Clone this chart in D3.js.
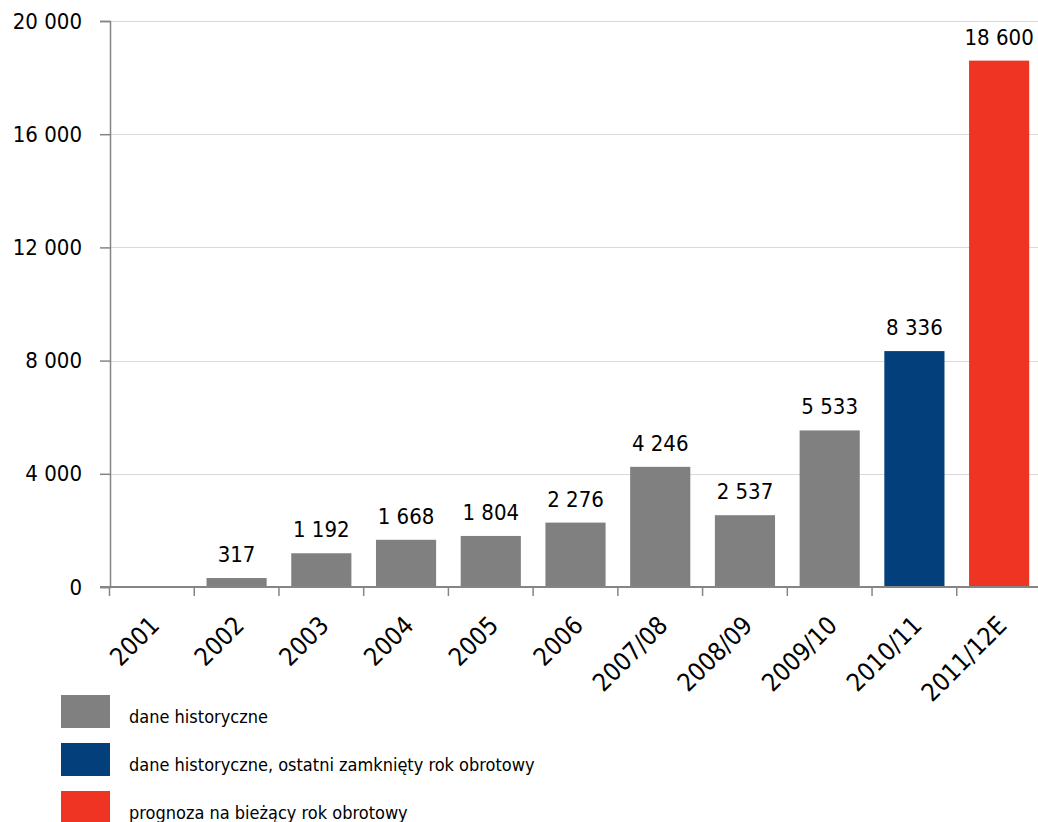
<html>
<head>
<meta charset="utf-8">
<script src="https://d3js.org/d3.v7.min.js"></script>
<style>
body { margin: 0; background: #fff; }
svg { display: block; }
text { font-family: "DejaVu Sans Condensed", "DejaVu Sans", sans-serif; fill: #000; }
.grid line { stroke: #d9d9d9; stroke-width: 1; }
.axis path, .axis line { stroke: #858585; }
</style>
</head>
<body>
<svg width="1038" height="822"></svg>
<script>

// data
var categories = ["2001", "2002", "2003", "2004", "2005", "2006", "2007/08", "2008/09", "2009/10", "2010/11", "2011/12E"];
var values = [0, 317, 1192, 1668, 1804, 2276, 4246, 2537, 5533, 8336, 18600];
var kinds = ["hist", "hist", "hist", "hist", "hist", "hist", "hist", "hist", "hist", "last", "forecast"];
var yTicks = [0, 4000, 8000, 12000, 16000, 20000];
var legendKeys = ["hist", "last", "forecast"];
var legendLabels = ["dane historyczne", "dane historyczne, ostatni zamknięty rok obrotowy", "prognoza na bieżący rok obrotowy"];

var colors = { hist: "#808080", last: "#023f7b", forecast: "#ef3424" };

var svg = d3.select("svg");
var fmt = function(v) { return d3.format(",")(v).replace(/,/g, " "); };

var x = d3.scaleBand()
    .domain(categories)
    .range([109.5, 1041.5])
    .paddingInner(0.29)
    .paddingOuter(0.145);

var y = d3.scaleLinear()
    .domain([0, 20000])
    .range([587, 21]);

// gridlines
svg.append("g")
    .attr("class", "grid")
    .selectAll("line")
    .data(yTicks.slice(1))
    .enter().append("line")
    .attr("x1", 110).attr("x2", 1038)
    .attr("y1", d => Math.round(y(d)) + 0.5)
    .attr("y2", d => Math.round(y(d)) + 0.5);

// bars
var data = categories.map((c, i) => ({ cat: c, value: values[i], kind: kinds[i] }));

svg.append("g").selectAll("rect")
    .data(data.filter(d => d.value > 0))
    .enter().append("rect")
    .attr("x", d => x(d.cat))
    .attr("width", x.bandwidth())
    .attr("y", d => y(d.value))
    .attr("height", d => y(0) - y(d.value))
    .attr("fill", d => colors[d.kind]);

// value labels
svg.append("g").selectAll("text")
    .data(data.filter(d => d.value > 0))
    .enter().append("text")
    .attr("x", d => x(d.cat) + x.bandwidth() / 2)
    .attr("y", d => y(d.value) - 16)
    .attr("text-anchor", "middle")
    .style("font-size", "22px")
    .text(d => fmt(d.value));

// y axis
var yAxis = svg.append("g")
    .attr("class", "axis")
    .attr("transform", "translate(110,0)")
    .call(d3.axisLeft(y).tickValues(yTicks).tickSize(10).tickPadding(18).tickFormat(fmt));
yAxis.select(".domain").attr("stroke-width", 1.5);
yAxis.selectAll(".tick line").attr("stroke-width", 1.5);
yAxis.selectAll("text")
    .style("font-size", "22px")
    .attr("fill", "#000");

// x axis
var step = x.step();
var xAxis = svg.append("g")
    .attr("class", "axis")
    .attr("transform", "translate(0,587)");
xAxis.append("line")
    .attr("x1", 100).attr("x2", 1038)
    .attr("stroke-width", 2);
xAxis.selectAll(".xt")
    .data(categories)
    .enter().append("line")
    .attr("class", "xt")
    .attr("x1", d => x(d) - x.paddingInner() * step / 2)
    .attr("x2", d => x(d) - x.paddingInner() * step / 2)
    .attr("y1", 0).attr("y2", 9)
    .attr("stroke-width", 1.5);
xAxis.selectAll("text")
    .data(categories)
    .enter().append("text")
    .attr("transform", d => "translate(" + (x(d) + x.bandwidth() / 2 + 9) + ",40) rotate(-45)")
    .attr("text-anchor", "end")
    .style("font-size", "25px")
    .text(d => d);

// legend
var legend = svg.append("g").selectAll("g")
    .data(legendKeys)
    .enter().append("g")
    .attr("transform", (d, i) => "translate(61," + (695 + i * 48) + ")");
legend.append("rect")
    .attr("width", 49)
    .attr("height", 33)
    .attr("fill", d => colors[d]);
legend.append("text")
    .attr("x", 68)
    .attr("y", 28)
    .style("font-size", "18px")
    .text((d, i) => legendLabels[i]);

</script>
</body>
</html>
